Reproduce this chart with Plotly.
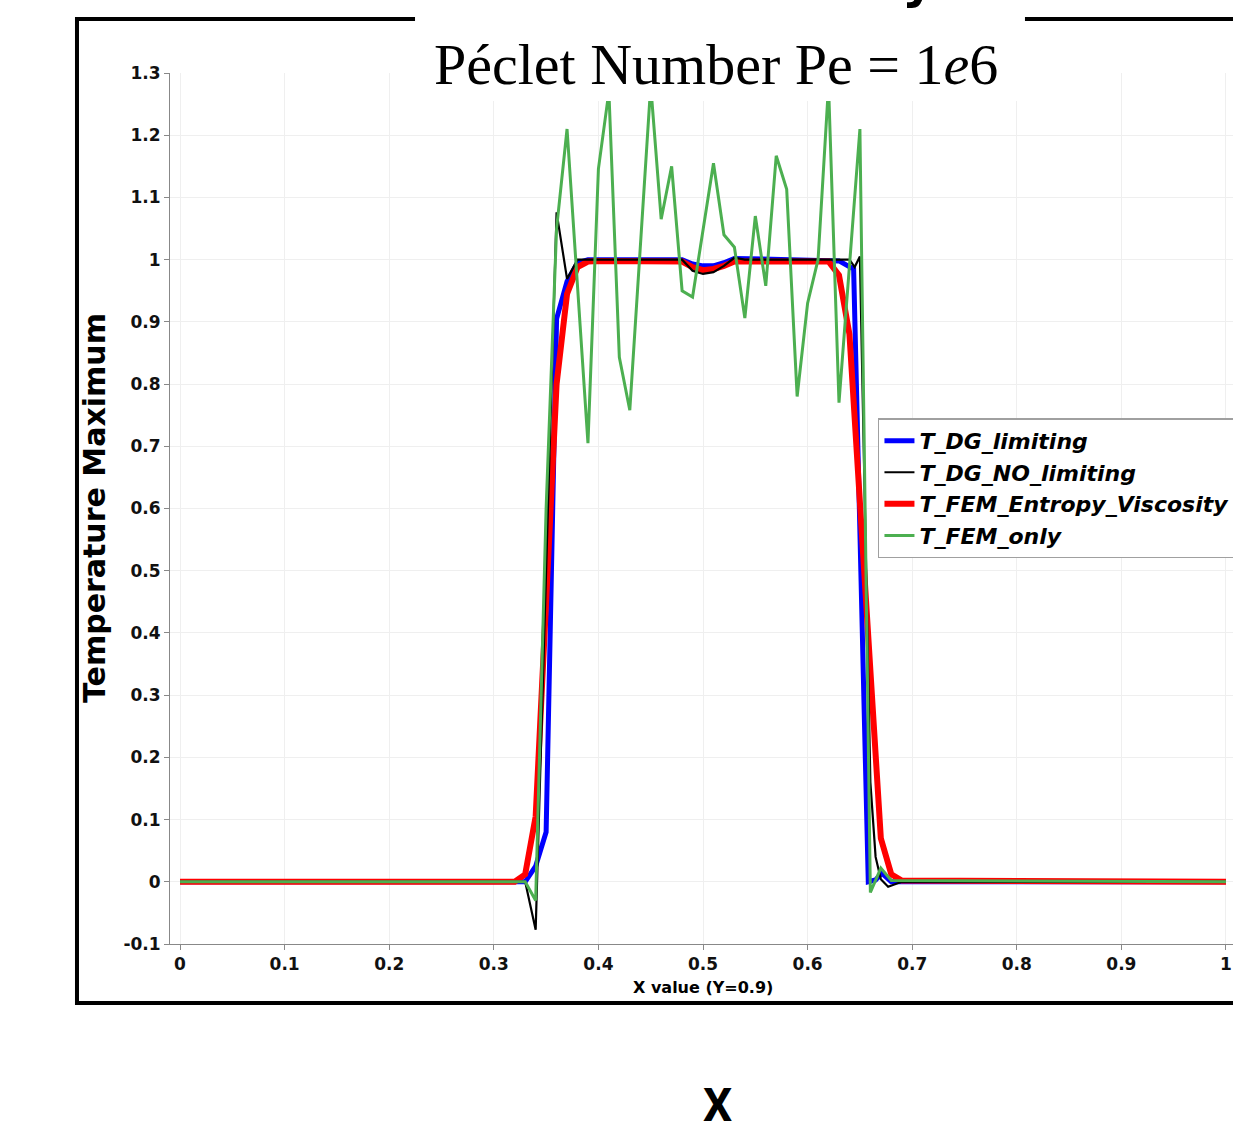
import plotly.graph_objects as go

# ---------------- data ----------------
x_ticks = [0, 0.1, 0.2, 0.3, 0.4, 0.5, 0.6, 0.7, 0.8, 0.9, 1.0]
x_tick_labels = ["0", "0.1", "0.2", "0.3", "0.4", "0.5", "0.6", "0.7", "0.8", "0.9", "1"]
y_ticks = [-0.1, 0, 0.1, 0.2, 0.3, 0.4, 0.5, 0.6, 0.7, 0.8, 0.9, 1.0, 1.1, 1.2, 1.3]
y_tick_labels = ["-0.1", "0", "0.1", "0.2", "0.3", "0.4", "0.5", "0.6", "0.7",
                 "0.8", "0.9", "1", "1.1", "1.2", "1.3"]

dg_lim_x = [0.0, 0.33, 0.34, 0.35, 0.36, 0.37, 0.38, 0.39, 0.48, 0.49, 0.50, 0.51,
            0.52, 0.53, 0.63, 0.644, 0.658, 0.665, 0.671, 0.68, 1.0]
dg_lim_y = [0.0, 0.0, 0.025, 0.08, 0.905, 0.965, 0.995, 1.0, 1.0, 0.993, 0.99, 0.99,
            0.995, 1.002, 0.998, 0.985, 0.0, 0.003, 0.014, 0.0, 0.0]

dg_nolim_x = [0.0, 0.33, 0.34, 0.35, 0.36, 0.37, 0.38, 0.48, 0.49, 0.50, 0.51, 0.52,
              0.53, 0.54, 0.64, 0.645, 0.65, 0.66, 0.665, 0.67, 0.677, 0.69, 1.0]
dg_nolim_y = [0.0, 0.0, -0.077, 0.50, 1.076, 0.969, 1.0, 1.0, 0.982, 0.977, 0.98, 0.99,
              1.003, 1.0, 1.0, 0.988, 1.005, 0.16, 0.04, 0.004, -0.008, 0.0, 0.0]

fem_ev_x = [0.0, 0.32, 0.33, 0.34, 0.35, 0.36, 0.37, 0.38, 0.39, 0.40, 0.48, 0.49,
            0.50, 0.51, 0.52, 0.53, 0.62, 0.63, 0.64, 0.67, 0.68, 0.69, 1.0]
fem_ev_y = [0.0, 0.0, 0.012, 0.105, 0.45, 0.80, 0.945, 0.988, 0.997, 0.998, 0.997, 0.988,
            0.983, 0.985, 0.99, 0.997, 0.997, 0.975, 0.88, 0.07, 0.012, 0.002, 0.0]

fem_only_x = [0.0, 0.33, 0.34, 0.35, 0.36, 0.37, 0.39, 0.40, 0.41, 0.42, 0.43, 0.45,
              0.46, 0.47, 0.48, 0.49, 0.51, 0.52, 0.53, 0.54, 0.55, 0.56, 0.57, 0.58,
              0.59, 0.60, 0.61, 0.62, 0.63, 0.65, 0.66, 0.67, 0.68, 1.0]
fem_only_y = [0.0, 0.0, -0.03, 0.60, 1.05, 1.21, 0.705, 1.146, 1.27, 0.843, 0.758, 1.28,
              1.065, 1.15, 0.95, 0.94, 1.155, 1.04, 1.02, 0.906, 1.07, 0.958, 1.167, 1.113,
              0.78, 0.93, 1.0, 1.28, 0.77, 1.21, -0.017, 0.022, 0.002, 0.0]

# ---------------- figure ----------------
fig = go.Figure()
fig.add_trace(go.Scatter(x=dg_lim_x, y=dg_lim_y, mode="lines", name="T_DG_limiting",
                         line=dict(color="#0000ff", width=5), legendrank=1))
fig.add_trace(go.Scatter(x=fem_ev_x, y=fem_ev_y, mode="lines", name="T_FEM_Entropy_Viscosity",
                         line=dict(color="#ff0000", width=6), legendrank=3))
fig.add_trace(go.Scatter(x=dg_nolim_x, y=dg_nolim_y, mode="lines", name="T_DG_NO_limiting",
                         line=dict(color="#000000", width=2.2), legendrank=2))
fig.add_trace(go.Scatter(x=fem_only_x, y=fem_only_y, mode="lines", name="T_FEM_only",
                         line=dict(color="#4caf50", width=3), legendrank=4))

tickfont = dict(family="DejaVu Sans", size=17, color="#111111", weight="bold")

fig.update_layout(
    width=1233, height=1133,
    margin=dict(l=170, r=0, t=73, b=189, autoexpand=False),
    paper_bgcolor="white", plot_bgcolor="white",
    showlegend=True,
    legend=dict(x=0.666, y=0.6035, xanchor="left", yanchor="top",
                bgcolor="white", bordercolor="#a0a0a0", borderwidth=1.5,
                font=dict(family="DejaVu Sans", size=22, color="black",
                          weight="bold", style="italic"),
                tracegroupgap=0),
    xaxis=dict(range=[-0.0096, 1.0067], tickvals=x_ticks, ticktext=x_tick_labels,
               showgrid=True, gridcolor="#efefef", gridwidth=1, zeroline=False,
               showline=True, linecolor="#888888", linewidth=1,
               ticks="outside", ticklen=5, tickcolor="#888888", tickfont=tickfont),
    yaxis=dict(range=[-0.1, 1.3], tickvals=y_ticks, ticktext=y_tick_labels,
               showgrid=True, gridcolor="#efefef", gridwidth=1, zeroline=False,
               showline=True, linecolor="#888888", linewidth=1,
               ticks="outside", ticklen=5, tickcolor="#888888", tickfont=tickfont),
    shapes=[
        dict(type="rect", xref="paper", yref="paper", x0=-0.0875, x1=1.05,
             y0=-0.0677, y1=1.062, line=dict(color="black", width=4),
             fillcolor="rgba(0,0,0,0)", layer="above"),
        dict(type="rect", xref="paper", yref="paper", x0=0.2305, x1=0.8043,
             y0=0.9679, y1=1.09, line=dict(width=0),
             fillcolor="white", layer="above"),
    ],
    annotations=[
        dict(text="Péclet Number Pe = 1<i>e</i>6", xref="paper", yref="paper",
             x=0.5136, y=1.0103, xanchor="center", yanchor="middle", showarrow=False,
             font=dict(family="Liberation Serif", size=58, color="black")),
        dict(text="X value (Y=0.9)", xref="paper", yref="paper",
             x=0.5014, y=-0.0505, xanchor="center", yanchor="middle", showarrow=False,
             font=dict(family="DejaVu Sans", size=16, color="black", weight="bold")),
        dict(text="Temperature Maximum", xref="paper", yref="paper", textangle=-90,
             x=-0.0706, y=0.5006, xanchor="center", yanchor="middle", showarrow=False,
             font=dict(family="DejaVu Sans", size=30, color="black", weight="bold")),
        dict(text="<b>X</b>", xref="paper", yref="paper",
             x=0.5155, y=-0.1848, xanchor="center", yanchor="middle", showarrow=False,
             font=dict(family="Roboto", size=46, color="black")),
        dict(text="<b>y</b>", xref="paper", yref="paper",
             x=0.7037, y=1.070, xanchor="center", yanchor="bottom", showarrow=False,
             font=dict(family="DejaVu Sans", size=50, color="black")),
    ],
)

fig.write_html("out.html",
               config={"displayModeBar": False, "staticPlot": True},
               post_script="document.body.style.margin='0px';"
                           "document.body.style.overflow='hidden';")
